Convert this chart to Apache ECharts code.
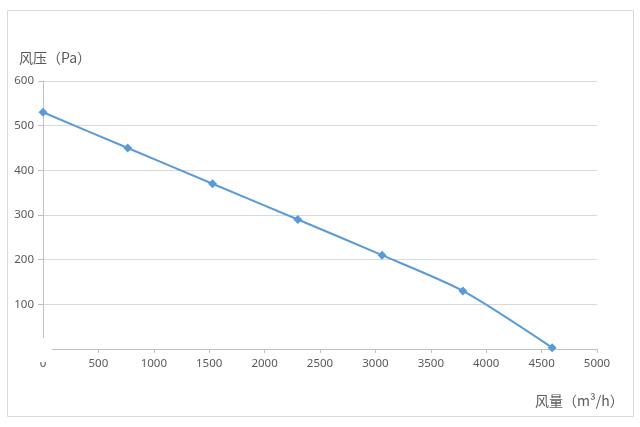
<!DOCTYPE html>
<html><head><meta charset="utf-8">
<script src="https://cdn.jsdelivr.net/npm/echarts@6/dist/echarts.min.js"></script>
<style>html,body{margin:0;padding:0;background:#fff}#c{width:640px;height:427px}</style>
</head><body><div id="c"></div>
<script>
var flow = [0, 765, 1530, 2300, 3060, 3790, 4595];
var pressure = [530, 450, 370, 290, 210, 130, 3];
var yTitle = '风压（Pa）';
var xTitle = '风量（m³/h）';

var chart = echarts.init(document.getElementById('c'));
var cjk = '"Noto Sans CJK SC", "Noto Sans", sans-serif';
var num = '"Noto Sans", "DejaVu Sans", sans-serif';
chart.setOption({
  animation: false,
  backgroundColor: '#fff',
  grid: {left: 43, right: 43, top: 81, bottom: 78, containLabel: false},
  title: [
    {text: yTitle, left: 14, top: 46, textStyle: {fontFamily: cjk, fontSize: 14, fontWeight: 'normal', color: '#595959'}},
    {text: xTitle, left: 530, top: 389, textStyle: {fontFamily: cjk, fontSize: 14, fontWeight: 'normal', color: '#595959'}}
  ],
  xAxis: {
    type: 'value', min: 0, max: 5000, interval: 500,
    axisLine: {show: true, lineStyle: {color: '#bfbfbf', width: 1}},
    axisTick: {show: true, length: 4, lineStyle: {color: '#bfbfbf'}},
    axisLabel: {color: '#595959', fontSize: 11.5, fontFamily: num, margin: 9,
      formatter: function (v) { return String(v); }},
    splitLine: {show: false}
  },
  yAxis: {
    type: 'value', min: 0, max: 600, interval: 100,
    axisLine: {show: true, lineStyle: {color: '#bfbfbf', width: 1}},
    axisTick: {show: true, length: 5, lineStyle: {color: '#bfbfbf'}},
    axisLabel: {color: '#595959', fontSize: 11.5, fontFamily: num, margin: 9,
      formatter: function (v) { return v === 0 ? '' : String(v); }},
    splitLine: {show: true, lineStyle: {color: '#d9d9d9', width: 1}}
  },
  series: [{
    type: 'line',
    data: flow.map(function (x, i) { return [x, pressure[i]]; }),
    smooth: 0.25,
    symbol: 'diamond', symbolSize: 9,
    lineStyle: {color: '#5b9bd5', width: 2},
    itemStyle: {color: '#5b9bd5'}
  }],
  graphic: [
    {type: 'rect', shape: {x: 7.5, y: 10.5, width: 626, height: 406}, style: {fill: null, stroke: '#d9d9d9', lineWidth: 1}, z: 100},
    {type: 'rect', shape: {x: 36, y: 338, width: 16, height: 24}, style: {fill: '#fff'}, z: 100}
  ]
});
</script></body></html>
